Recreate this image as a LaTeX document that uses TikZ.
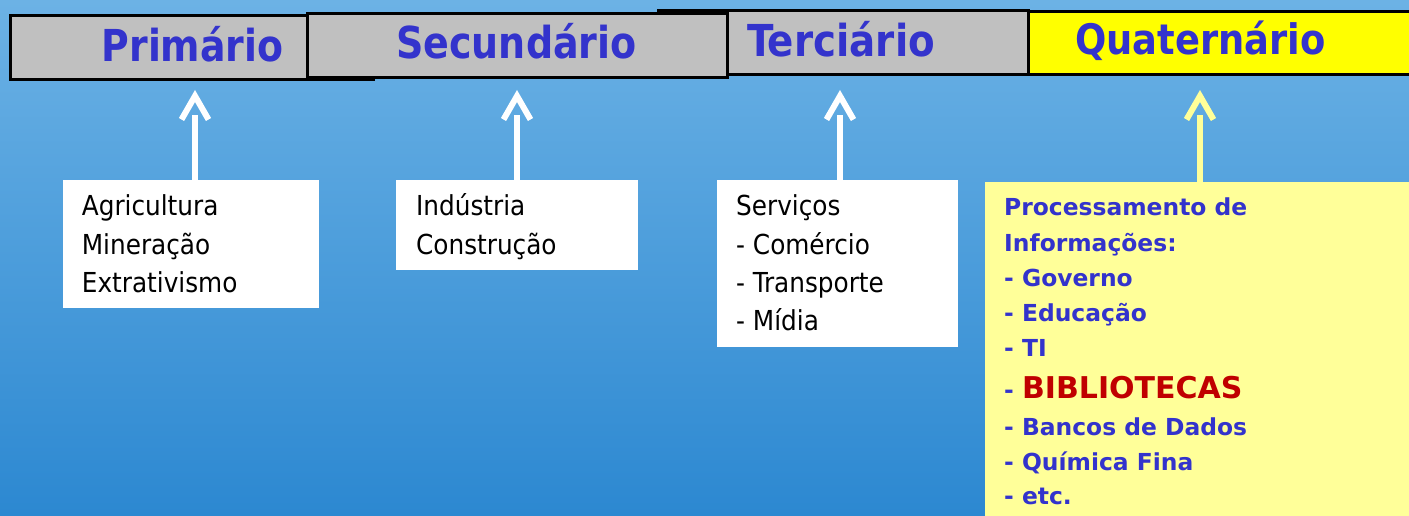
\documentclass[tikz,border=0pt]{standalone}
\usepackage{fontspec}
\setmainfont{DejaVu Sans}
\newfontfamily\condfont{DejaVu Sans Condensed}
\usetikzlibrary{calc}
\definecolor{bgtop}{RGB}{108,178,229}
\definecolor{bgbot}{RGB}{44,136,209}
\definecolor{hdrgray}{RGB}{192,192,192}
\definecolor{ttlblue}{RGB}{51,51,204}
\definecolor{hdryellow}{RGB}{255,255,0}
\definecolor{paleyellow}{RGB}{255,255,153}
\definecolor{darkred}{RGB}{192,0,0}
\tikzset{
  hdr/.style={draw=black, line width=3pt, fill=hdrgray, anchor=north west, inner sep=0pt},
  ttl/.style={anchor=base west, inner sep=0pt, text=ttlblue, font=\condfont\bfseries\fontsize{44}{52}\selectfont},
  wbox/.style={fill=white, anchor=north west, inner sep=0pt},
  wtxt/.style={anchor=base west, inner sep=0pt, text=black, font=\condfont\fontsize{27.5}{33}\selectfont},
  ytxt/.style={anchor=base west, inner sep=0pt, text=ttlblue, font=\bfseries\fontsize{23.4}{28}\selectfont},
  shaft/.style={line width=6pt},
  chev/.style={line width=6pt, miter limit=10},
}
\begin{document}
\begin{tikzpicture}[x=1pt,y=-1pt]
\useasboundingbox (0,0) rectangle (1409,515);
\clip (0,0) rectangle (1409,515);
\shade[top color=bgtop, bottom color=bgbot] (0,0) rectangle (1409,515);

% header boxes
\node[hdr, minimum width=363pt, minimum height=64pt] (h1) at (8.5,13.5) {};
\node[hdr, minimum width=370pt, minimum height=64pt] (h3) at (656.5,8.5) {};
\node[hdr, minimum width=420pt, minimum height=64pt] (h2) at (305.5,11.5) {};
\node[hdr, fill=hdryellow, minimum width=420pt, minimum height=63pt] (h4) at (1026.5,9.5) {};

\node[ttl] (t1) at (101.5,61) {\scalebox{0.955}[1]{Primário}};
\node[ttl] (t2) at (396,58.5) {\scalebox{0.96}[1]{Secundário}};
\node[ttl] (t3) at (747,56) {\scalebox{0.98}[1]{Terciário}};
\node[ttl, font=\condfont\bfseries\fontsize{42}{50}\selectfont] (t4) at (1075,54.5) {\scalebox{0.975}[1]{Quaternário}};

% content boxes
\node[wbox, minimum width=256.7pt, minimum height=128pt] (bA) at (62.3,180) {};
\node[wbox, minimum width=242pt, minimum height=90pt] (bB) at (395.7,180) {};
\node[wbox, minimum width=241.3pt, minimum height=167pt] (bC) at (716.7,180) {};
\node[wbox, fill=paleyellow, minimum width=460pt, minimum height=360pt] (bD) at (984.5,181.5) {};

% connectors
\coordinate (aA) at (195,115);
\coordinate (aB) at (517,115);
\coordinate (aC) at (840,115);
\coordinate (aD) at (1200,115);
\foreach \b/\c/\col in {bA/aA/white, bB/aB/white, bC/aC/white, bD/aD/paleyellow}{
  \draw[shaft, draw=\col] (\b.north -| \c) -- (\c);
  \draw[chev, draw=\col] (\c) ++(-13.5,4.5) -- ++(13.5,-23.5) -- ++(13.5,23.5);
}

% texts
\foreach \t [count=\i] in {Agricultura, Mineração, Extrativismo}
  \node[wtxt] (lA\i) at (81.7,{215.7+38.5*(\i-1)}) {\t};
\foreach \t [count=\i] in {Indústria, Construção}
  \node[wtxt] (lB\i) at (416,{215.7+38.5*(\i-1)}) {\t};
\foreach \t [count=\i] in {Serviços, - Comércio, - Transporte, - Mídia}
  \node[wtxt] (lC\i) at (736,{215.7+38.4*(\i-1)}) {\t};

\node[ytxt] (lD1) at (1004,215.7) {Processamento de};
\node[ytxt] (lD2) at (1004,251) {Informações:};
\node[ytxt] (lD3) at (1004,286.3) {- Governo};
\node[ytxt] (lD4) at (1004,321.7) {- Educação};
\node[ytxt] (lD5) at (1004,356.7) {- TI};
\node[ytxt] (lD6) at (1004,398) {- \textcolor{darkred}{\fontsize{30}{36}\selectfont BIBLIOTECAS}};
\node[ytxt] (lD7) at (1004,435) {- Bancos de Dados};
\node[ytxt] (lD8) at (1004,470) {- Química Fina};
\node[ytxt] (lD9) at (1004,504) {- etc.};
\end{tikzpicture}
\end{document}
